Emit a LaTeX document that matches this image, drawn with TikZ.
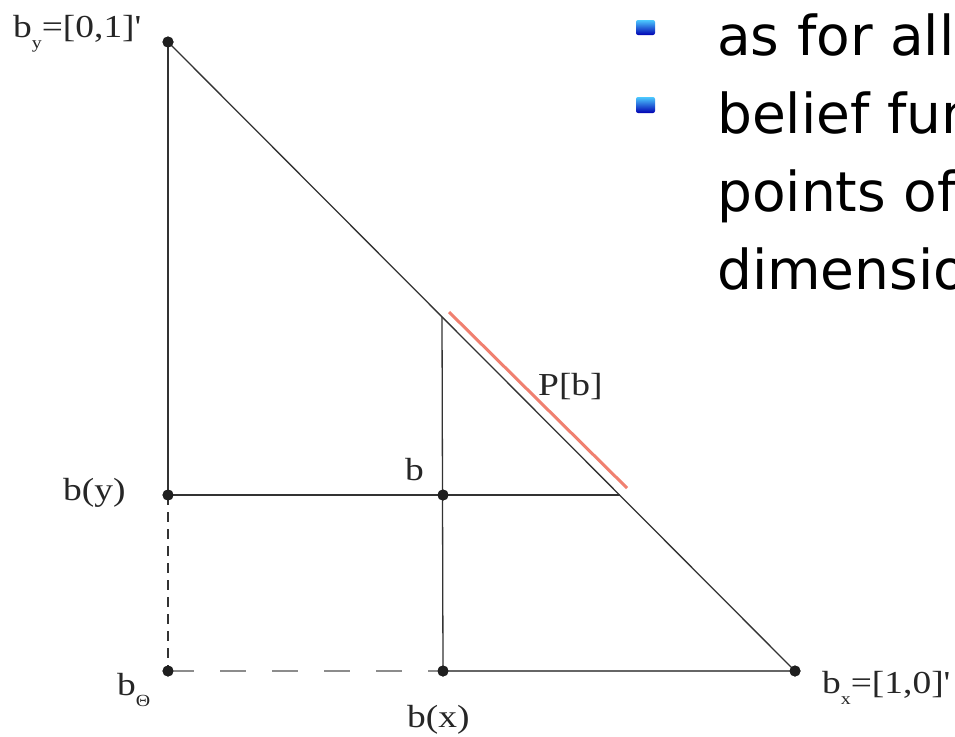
\documentclass[tikz,border=0pt]{standalone}
\usepackage{fontspec}
\usepackage{graphicx}
\setmainfont{Liberation Serif}
\newfontfamily\slidefont{DejaVu Sans}
\newcommand\lsub[1]{\raisebox{-0.35em}{\fontsize{17}{17}\selectfont #1}}
\newcommand\wide[1]{\scalebox{1.17}[1]{#1}}
\definecolor{salmon}{RGB}{240,128,112}
\begin{document}
\begin{tikzpicture}[x=1pt,y=-1pt,
  lbl/.style={font=\fontsize{32}{38}\selectfont, inner sep=0pt, anchor=base west, text=black!85},
  slide/.style={font=\slidefont\fontsize{55}{66}\selectfont, inner sep=0pt, anchor=base west, text=black},
  dot/.style={circle, fill=black!88, inner sep=0pt, minimum size=11pt},
  edge/.style={draw=black!80, line width=1.3pt},
  lightedge/.style={draw=black!60, line width=1.5pt},
  shortdash/.style={draw=black!80, line width=1.3pt, dash pattern=on 10pt off 7pt},
  longdash/.style={draw=black!45, line width=1.6pt, dash pattern=on 26pt off 26pt},
  projline/.style={draw=salmon, line width=3pt},
  bullet/.style={top color=blue!30!cyan!70!white, bottom color=blue!70!black, rounded corners=2pt}]
\useasboundingbox (0,0) rectangle (955,736);
\fill[white] (0,0) rectangle (955,736);

% points
\node[dot] (by) at (168,42) {};
\node[dot] (bt) at (168,671) {};
\node[dot] (bx) at (795,671) {};
\node[dot] (byy) at (168,495) {};
\node[dot] (b) at (443,495) {};
\node[dot] (bxx) at (443,671) {};
\coordinate (top) at (442,317);
\coordinate (hr) at (620,495);
\coordinate (r1) at (449,312);
\coordinate (r2) at (627,488);

% lines
\draw[edge] (by.center) -- (byy.center);
\draw[shortdash] (byy.center) -- (bt.center);
\draw[edge] (by.center) -- (bx.center);
\draw[edge] (byy.center) -- (hr);
\draw[edge] (bxx.center) -- (top);
\draw[longdash] (bt.center) -- (bxx.center);
\draw[lightedge] (bxx.center) -- (bx.center);
\draw[projline] (r1) -- (r2);

% redraw dots on top
\foreach \p in {by,bt,bx,byy,b,bxx} \fill[black!88] (\p.center) circle (5.5pt);

% labels
\node[lbl] (lby) at (13,37) {\wide{b\lsub{y}=[0,1]\textquotesingle}};
\node[lbl] (lbyy) at (63,500) {\wide{b(y)}};
\node[lbl] (lb) at (405,480) {\wide{b}};
\node[lbl] (lpb) at (538,395) {\wide{P[b]}};
\node[lbl] (lbt) at (117,695) {\wide{b\lsub{Θ}}};
\node[lbl] (lbxx) at (407,727) {\wide{b(x)}};
\node[lbl] (lbx) at (822,693) {\wide{b\lsub{x}=[1,0]\textquotesingle}};

% slide text
\shade[bullet] (636,20) rectangle (655,35);
\shade[bullet] (636,97) rectangle (655,113);
\begin{scope}
\clip (0,0) rectangle (955,736);
\node[slide] (t1) at (717,55) {as for all};
\node[slide] (t2) at (717,133) {belief functions};
\node[slide] (t3) at (717,211) {points of};
\node[slide] (t4) at (717,289) {dimension};
\end{scope}
\end{tikzpicture}
\end{document}
